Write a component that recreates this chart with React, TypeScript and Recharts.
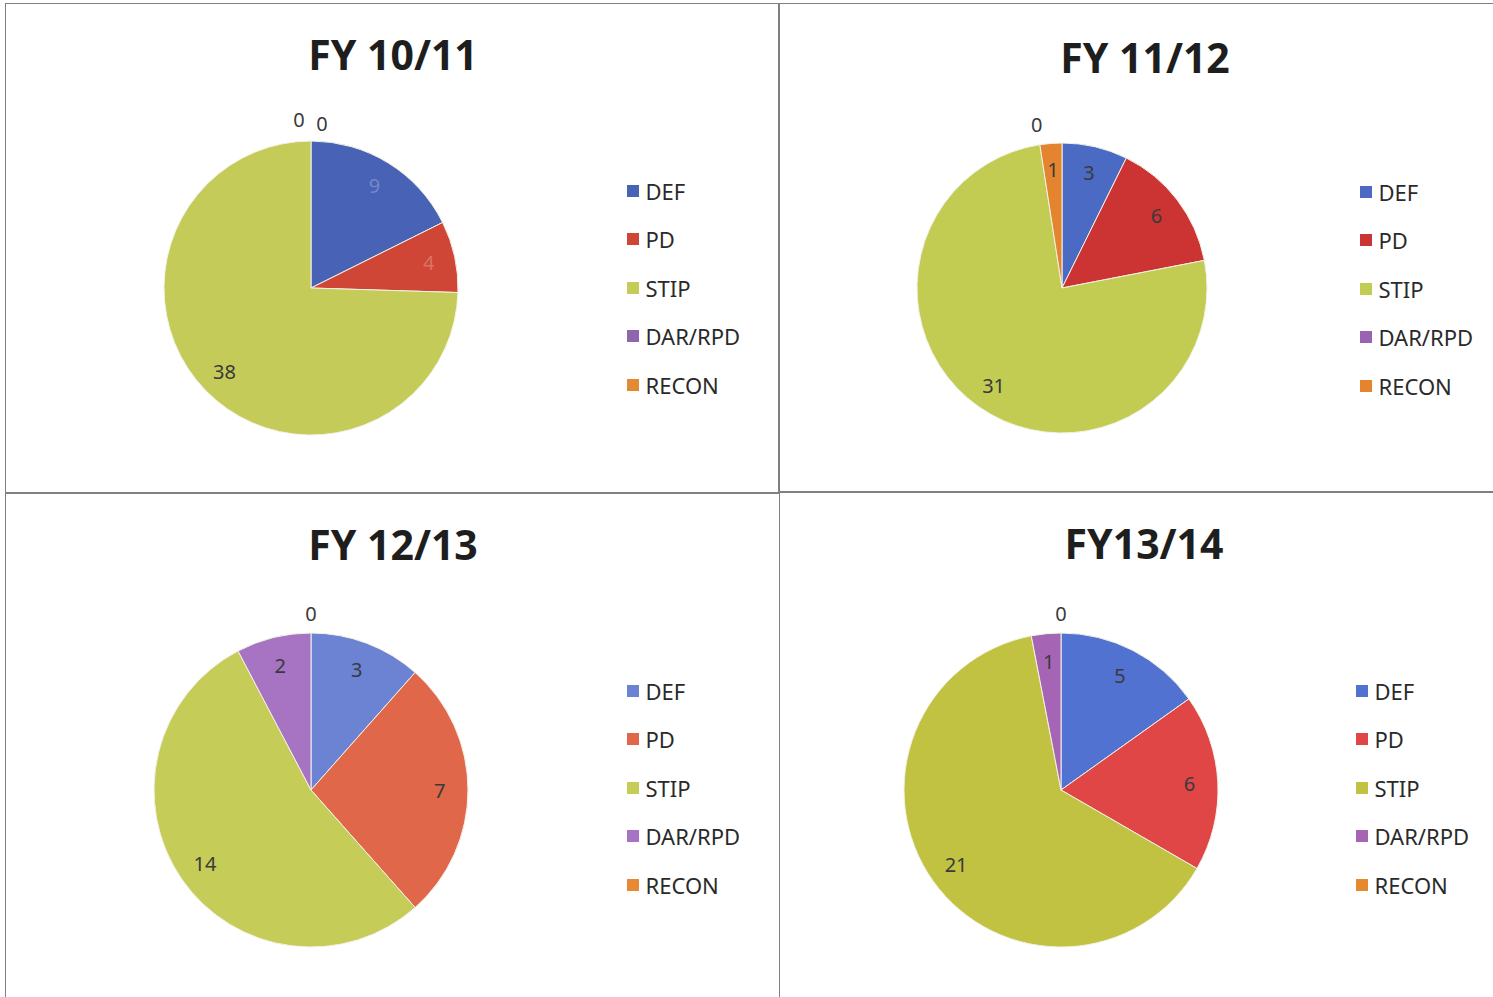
import React from "react";
import { PieChart, Pie, Cell, Legend } from "recharts";

// data
const categories = ["DEF", "PD", "STIP", "DAR/RPD", "RECON"];
const titles = ["FY 10/11", "FY 11/12", "FY 12/13", "FY13/14"];
const fy1011 = [9, 4, 38, 0, 0];
const fy1112 = [3, 6, 31, 0, 1];
const fy1213 = [3, 7, 14, 2, 0];
const fy1314 = [5, 6, 21, 1, 0];

// scan colours drift a little from chart to chart
const colors1011 = ["#4862b6", "#cf4636", "#c4cb58", "#8f66ad", "#e58a34"];
const colors1112 = ["#4a6ac4", "#cc3434", "#c2cc52", "#9a62b0", "#e4842e"];
const colors1213 = ["#6c82d2", "#e0674a", "#c6cc58", "#a674c2", "#e88a34"];
const colors1314 = ["#5272d2", "#e04646", "#c2c242", "#a664b4", "#e68a30"];

const RAD = Math.PI / 180;

type PanelProps = {
  title: string;
  values: number[];
  colors: string[];
  left: number;
  top: number;
  width: number;
  height: number;
  cx: number;
  cy: number;
  r: number;
  titleX: number;
  titleY: number;
  legendX: number;
  legendY: number;
  faintInside?: boolean;
};

function Panel(p: PanelProps) {
  const data = categories.map((name, i) => ({ name, value: p.values[i] }));
  const bothZeroEnd = p.values[3] === 0 && p.values[4] === 0;

  const renderLabel = (props: any) => {
    const { cx, cy, midAngle, outerRadius, index } = props;
    const v = p.values[index];
    let rr = outerRadius * 0.82;
    let dx = 0;
    let dy = 0;
    if (v === 0) {
      rr = outerRadius + 20;
      if (bothZeroEnd) {
        dx = index === 3 ? -12 : 11;
        dy = index === 3 ? -2 : 2;
      }
    }
    const x = cx + rr * Math.cos(-midAngle * RAD) + dx;
    const y = cy + rr * Math.sin(-midAngle * RAD) + dy;
    let fill = "#3a3a3a";
    if (p.faintInside && v !== 0 && index < 2) fill = "rgba(255,255,255,0.25)";
    return (
      <text
        key={"l" + index}
        x={x}
        y={y}
        fill={fill}
        fontSize={20}
        fontFamily="'Noto Sans', sans-serif"
        textAnchor="middle"
        dominantBaseline="central"
      >
        {v}
      </text>
    );
  };

  const renderLegend = () => (
    <div style={{ fontFamily: "'Noto Sans', sans-serif", fontSize: 22, color: "#2a2a2a" }}>
      {categories.map((c, i) => (
        <div key={c} style={{ display: "flex", alignItems: "center", height: 48.5 }}>
          <span
            style={{
              display: "inline-block",
              width: 12,
              height: 12,
              background: p.colors[i],
              marginRight: 7,
            }}
          />
          <span>{c}</span>
        </div>
      ))}
    </div>
  );

  return (
    <div
      style={{
        position: "absolute",
        left: p.left,
        top: p.top,
        width: p.width,
        height: p.height,
        border: "1.5px solid #808080",
        boxSizing: "border-box",
        background: "#fff",
      }}
    >
      <div
        style={{
          position: "absolute",
          left: p.titleX - 150,
          top: p.titleY - 32,
          width: 300,
          height: 60,
          lineHeight: "60px",
          textAlign: "center",
          fontFamily: "'Noto Sans', sans-serif",
          fontWeight: 700,
          fontSize: 41,
          color: "#1e1e1e",
        }}
      >
        {p.title}
      </div>
      <div style={{ position: "absolute", left: -1.5, top: -1.5 }}>
        <PieChart
          width={p.width}
          height={p.height}
          margin={{ top: 0, right: 0, bottom: 0, left: 0 }}
        >
          <Pie
            data={data}
            dataKey="value"
            nameKey="name"
            cx={p.cx}
            cy={p.cy}
            outerRadius={p.r}
            startAngle={90}
            endAngle={-270}
            stroke="#f2f2e6"
            strokeWidth={1}
            label={renderLabel}
            labelLine={false}
            isAnimationActive={false}
          >
            {data.map((d, i) => (
              <Cell key={d.name} fill={p.colors[i]} />
            ))}
          </Pie>
          <Legend
            content={renderLegend}
            wrapperStyle={{ position: "absolute", left: p.legendX, top: p.legendY, width: 160 }}
          />
        </PieChart>
      </div>
    </div>
  );
}

export default function App() {
  return (
    <div
      style={{
        position: "absolute",
        left: 0,
        top: 0,
        width: 1493,
        height: 997,
        background: "#fff",
        overflow: "hidden",
      }}
    >
      <Panel
        title={titles[0]}
        values={fy1011}
        colors={colors1011}
        left={5}
        top={3}
        width={774}
        height={490}
        cx={306}
        cy={285}
        r={147}
        titleX={387}
        titleY={52}
        legendX={622}
        legendY={164}
        faintInside
      />
      <Panel
        title={titles[1]}
        values={fy1112}
        colors={colors1112}
        left={779}
        top={3}
        width={720}
        height={489}
        cx={283}
        cy={285}
        r={145}
        titleX={365}
        titleY={55}
        legendX={581}
        legendY={165}
      />
      <Panel
        title={titles[2]}
        values={fy1213}
        colors={colors1213}
        left={5}
        top={493}
        width={775}
        height={510}
        cx={306}
        cy={297}
        r={157}
        titleX={387}
        titleY={52}
        legendX={622}
        legendY={174}
      />
      <Panel
        title={titles[3]}
        values={fy1314}
        colors={colors1314}
        left={779}
        top={492}
        width={720}
        height={510}
        cx={282}
        cy={298}
        r={157}
        titleX={364}
        titleY={52}
        legendX={577}
        legendY={175}
      />
    </div>
  );
}
